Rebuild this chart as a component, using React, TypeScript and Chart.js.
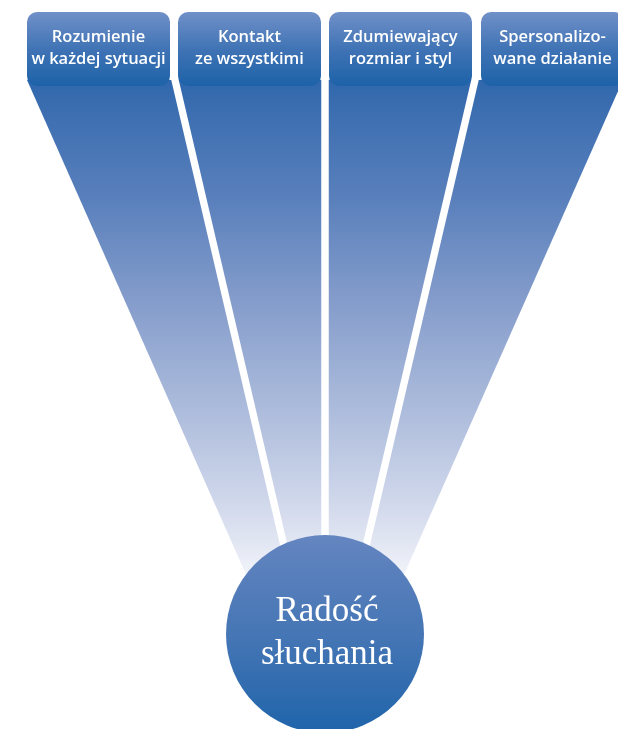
import React, { useEffect, useRef } from 'react';
import { Chart, registerables } from 'chart.js';

Chart.register(...registerables);

// ---- data (diagram geometry in chart units: x 0..618, y 0..729 top-down) ----
const categoryLine1 = ['Rozumienie', 'Kontakt', 'Zdumiewający', 'Spersonalizo-'];
const categoryLine2 = ['w każdej sytuacji', 'ze wszystkimi', 'rozmiar i styl', 'wane działanie'];
const boxCenterX = [98.5, 249.5, 400.5, 552.5];
const boxRange = [12, 86];

const edgeRowY = [80, 640];
const edgeTopX = [27, 175, 325, 475, 623];
const edgeBottomX = [275, 306, 325, 344, 375];

const hubLabel = ['Radość', 'słuchania'];
const hubPoint = [{ x: 325, y: 634, r: 99 }];

// ---- styles ----
const GAP = 3.75;
const beamStops: [number, string][] = [
  [80, '#2f67ad'],
  [100, '#386caf'],
  [200, '#5a80bc'],
  [300, '#849ccb'],
  [400, '#a9b9da'],
  [495, '#cdd5ea'],
  [550, '#e5e9f4'],
  [590, '#f9fafd'],
  [640, '#ffffff'],
];
const boxStops: [number, string][] = [
  [12, '#7090c8'],
  [50, '#3f73b5'],
  [86, '#1d62a8'],
];
const hubStops: [number, string][] = [
  [535, '#6485c0'],
  [634, '#4676b5'],
  [733, '#1f64aa'],
];

function vGradient(chart: any, stops: [number, string][], fallback: string) {
  const { ctx, chartArea, scales } = chart;
  if (!chartArea || !scales || !scales.y) return fallback;
  const y0 = scales.y.getPixelForValue(stops[0][0]);
  const y1 = scales.y.getPixelForValue(stops[stops.length - 1][0]);
  const g = ctx.createLinearGradient(0, y0, 0, y1);
  const span = stops[stops.length - 1][0] - stops[0][0];
  stops.forEach(([v, c]) => g.addColorStop((v - stops[0][0]) / span, c));
  return g;
}

function beamPolygon(i: number) {
  const lt = edgeTopX[i] + (i > 0 ? GAP : 0);
  const rt = edgeTopX[i + 1] - (i < 3 ? GAP : 0);
  const lb = edgeBottomX[i] + (i > 0 ? GAP : 0);
  const rb = edgeBottomX[i + 1] - (i < 3 ? GAP : 0);
  return [
    { x: lt, y: edgeRowY[0] },
    { x: rt, y: edgeRowY[0] },
    { x: rb, y: edgeRowY[1] },
    { x: lb, y: edgeRowY[1] },
    { x: lt, y: edgeRowY[0] },
  ];
}

const labelPlugin = {
  id: 'diagramLabels',
  afterDatasetsDraw(chart: any) {
    const ctx = chart.ctx;
    ctx.save();
    ctx.fillStyle = '#ffffff';
    ctx.textAlign = 'center';
    ctx.textBaseline = 'alphabetic';
    chart.data.datasets.forEach((ds: any, di: number) => {
      const meta = chart.getDatasetMeta(di);
      if (ds.type === 'bar') {
        ctx.font = '600 16.5px "Open Sans"';
        meta.data.forEach((el: any, i: number) => {
          const { x, y, base } = el.getProps(['x', 'y', 'base'], true);
          const top = Math.min(y, base);
          ctx.fillText(categoryLine1[i], x, top + 30);
          ctx.fillText(categoryLine2[i], x, top + 52);
        });
      } else if (ds.type === 'bubble') {
        ctx.font = '35px "Liberation Serif"';
        meta.data.forEach((el: any) => {
          const { x, y } = el.getProps(['x', 'y'], true);
          ctx.fillText(hubLabel[0], x + 2, y - 13);
          ctx.fillText(hubLabel[1], x + 2, y + 30);
        });
      }
    });
    ctx.restore();
  },
};

export default function App() {
  const ref = useRef<HTMLCanvasElement>(null);
  useEffect(() => {
    document.body.style.margin = '0';
    if (!ref.current) return;
    const beams = [0, 1, 2, 3].map((i) => ({
      type: 'line' as const,
      data: beamPolygon(i),
      order: 3,
      fill: 'shape',
      tension: 0,
      borderWidth: 0,
      pointRadius: 0,
      backgroundColor: (c: any) => vGradient(c.chart, beamStops, '#7f98c9'),
    }));
    const chart = new Chart(ref.current, {
      type: 'scatter',
      data: {
        datasets: [
          ...beams,
          {
            type: 'bar',
            data: boxCenterX.map((x) => ({ x, y: boxRange })),
            order: 2,
            barThickness: 143,
            borderRadius: 10,
            borderSkipped: false,
            borderWidth: 0,
            inflateAmount: 0,
            backgroundColor: (c: any) => vGradient(c.chart, boxStops, '#2f67ad'),
          },
          {
            type: 'bubble',
            data: hubPoint,
            order: 1,
            borderWidth: 0,
            backgroundColor: (c: any) => vGradient(c.chart, hubStops, '#4676b5'),
          },
        ] as any,
      },
      options: {
        animation: false,
        responsive: true,
        maintainAspectRatio: false,
        events: [],
        clip: false,
        layout: { padding: 0, autoPadding: false },
        plugins: { legend: { display: false }, tooltip: { enabled: false } },
        scales: {
          x: { type: 'linear', min: 0, max: 618, display: false, offset: false },
          y: { type: 'linear', min: 0, max: 729, reverse: true, display: false, offset: false },
        },
      } as any,
      plugins: [labelPlugin],
    });
    let alive = true;
    (document as any).fonts?.ready?.then(() => {
      if (alive) chart.update();
    });
    return () => {
      alive = false;
      chart.destroy();
    };
  }, []);
  return (
    <div style={{ position: 'absolute', left: 0, top: 0, width: 618, height: 729 }}>
      <canvas ref={ref} />
    </div>
  );
}
